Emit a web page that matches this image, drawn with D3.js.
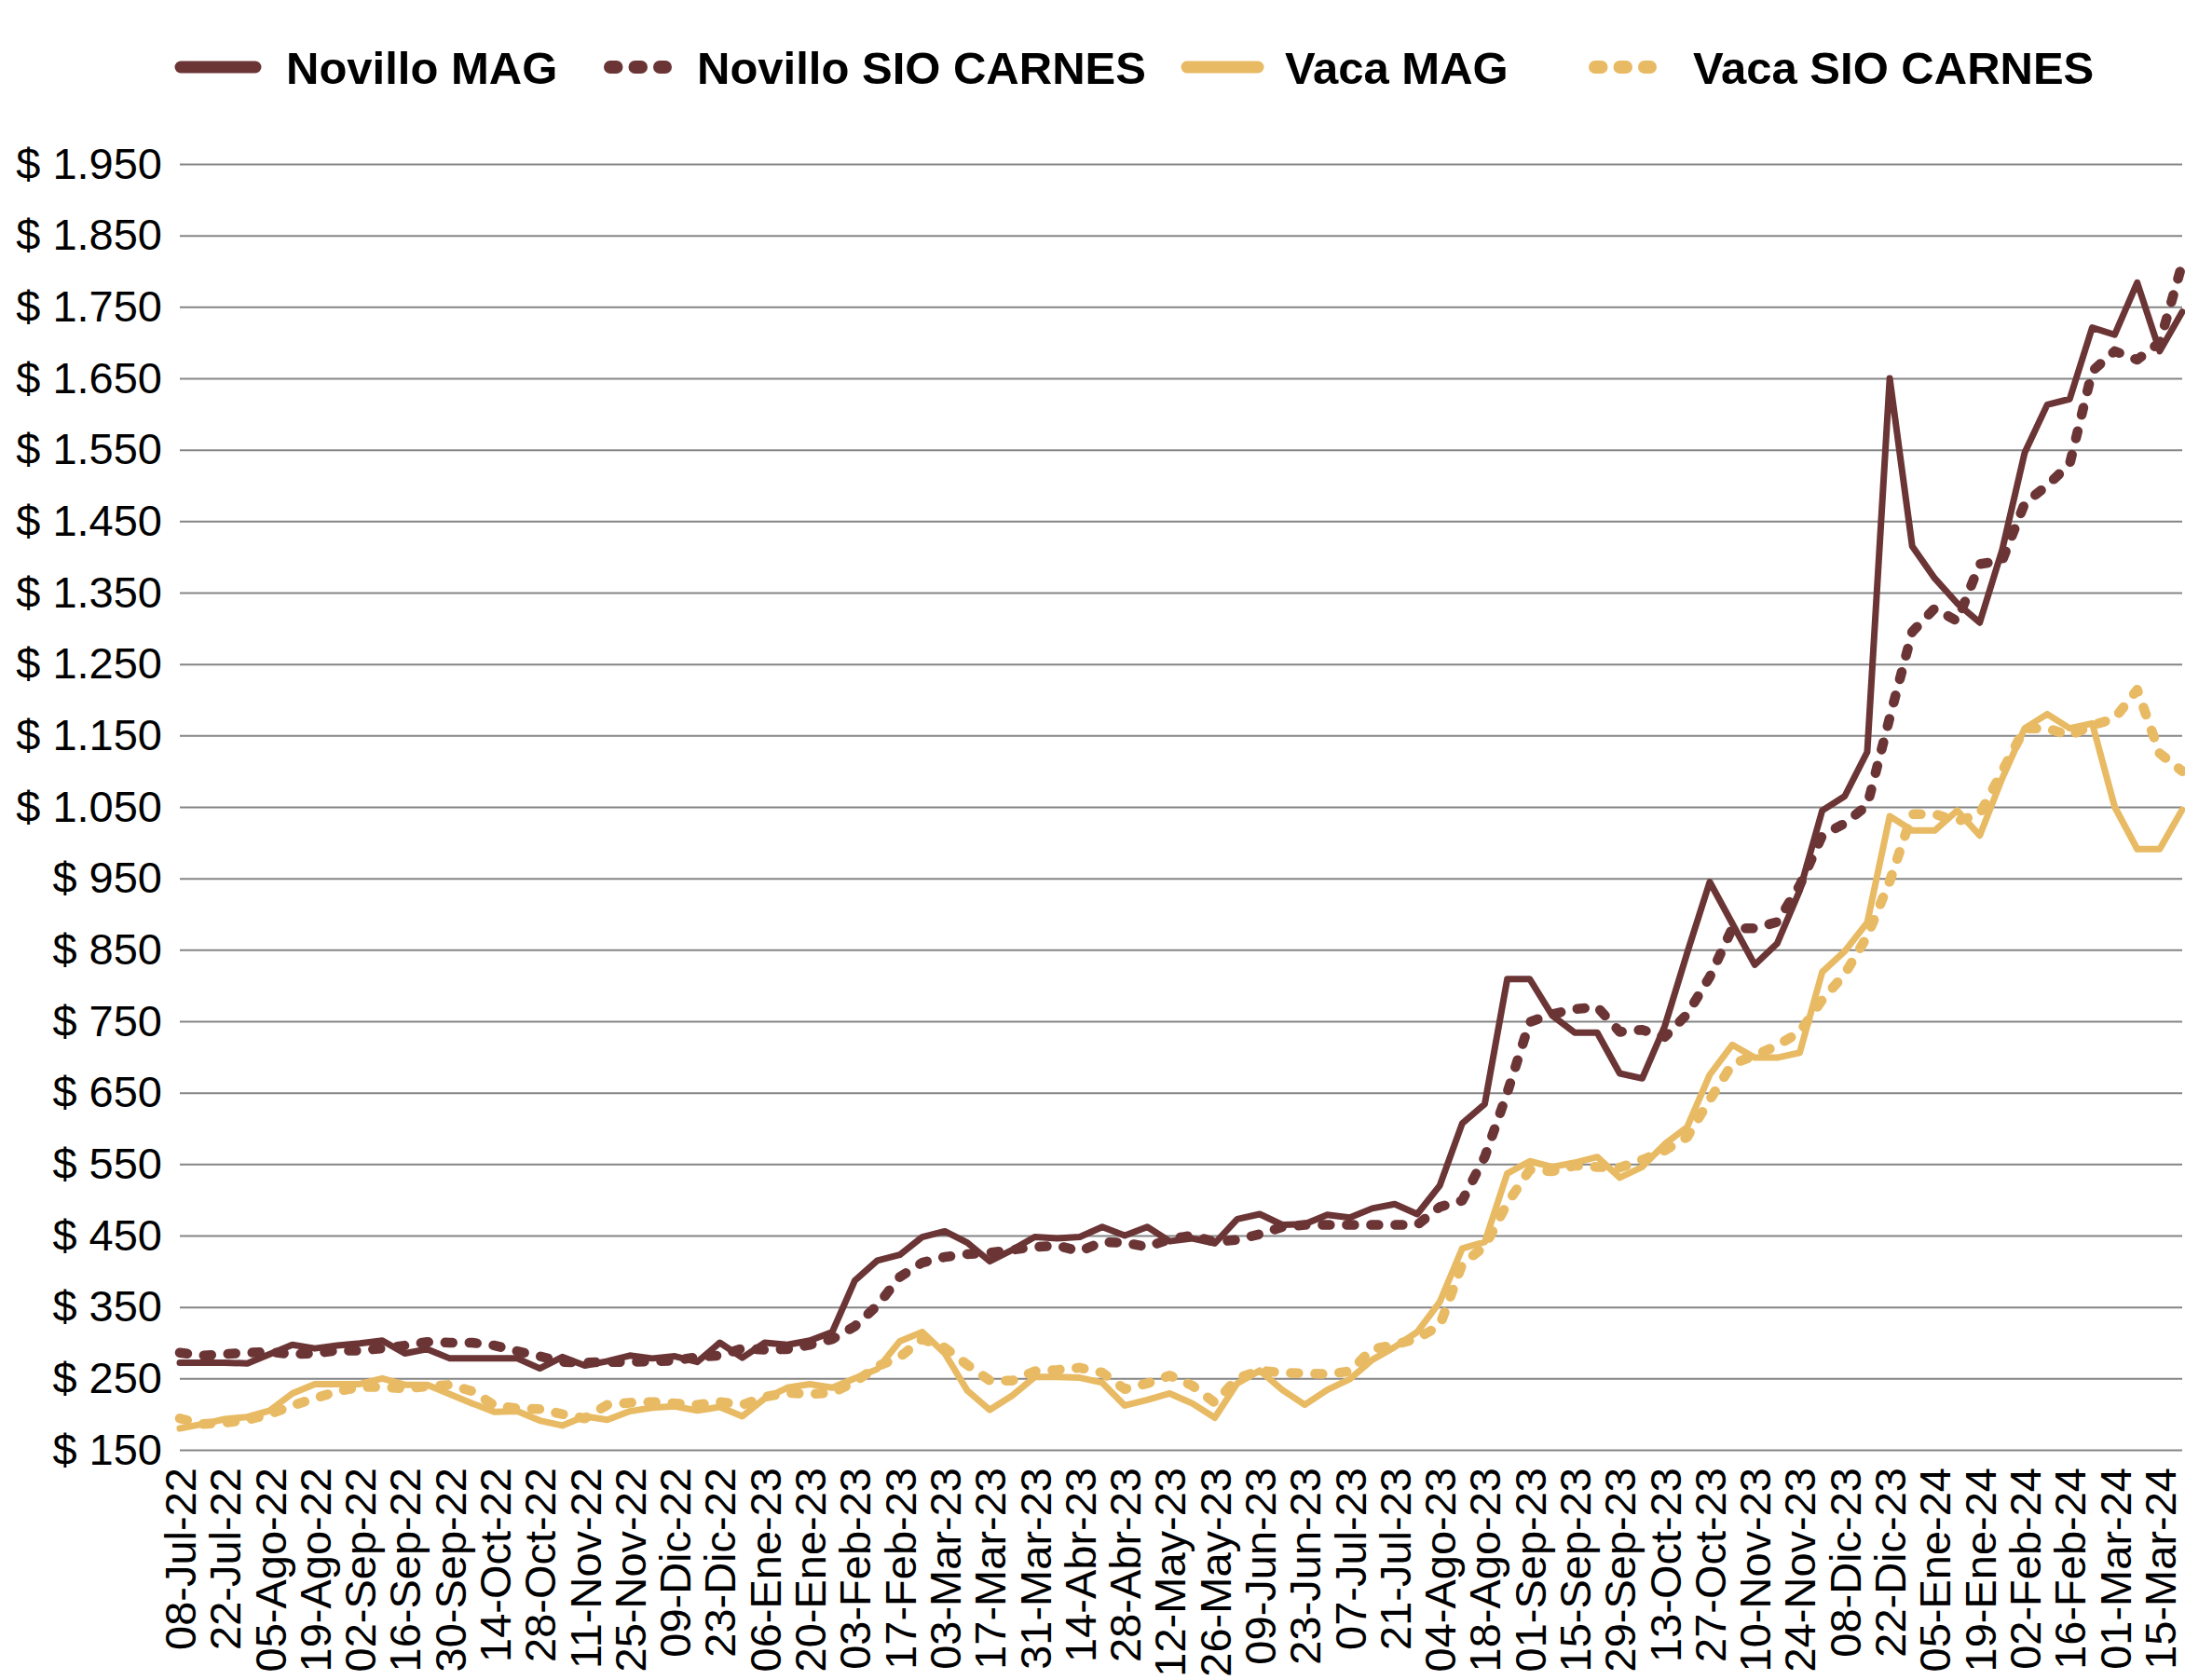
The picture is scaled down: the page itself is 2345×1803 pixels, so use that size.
<!DOCTYPE html>
<html>
<head>
<meta charset="utf-8">
<script src="https://cdn.jsdelivr.net/npm/d3@7"></script>
<style>
  body { margin: 0; background: #fff; }
  svg { display: block; font-family: "Liberation Sans", Arial, sans-serif; }
</style>
</head>
<body>
<svg id="chart" width="2345" height="1803"></svg>
<script>
// weekly categories (labels shown every two weeks)
const weeks = [
  "08-Jul-22","15-Jul-22","22-Jul-22","29-Jul-22","05-Ago-22","12-Ago-22","19-Ago-22","26-Ago-22",
  "02-Sep-22","09-Sep-22","16-Sep-22","23-Sep-22","30-Sep-22","07-Oct-22","14-Oct-22","21-Oct-22",
  "28-Oct-22","04-Nov-22","11-Nov-22","18-Nov-22","25-Nov-22","02-Dic-22","09-Dic-22","16-Dic-22",
  "23-Dic-22","30-Dic-22","06-Ene-23","13-Ene-23","20-Ene-23","27-Ene-23","03-Feb-23","10-Feb-23",
  "17-Feb-23","24-Feb-23","03-Mar-23","10-Mar-23","17-Mar-23","24-Mar-23","31-Mar-23","07-Abr-23",
  "14-Abr-23","21-Abr-23","28-Abr-23","05-May-23","12-May-23","19-May-23","26-May-23","02-Jun-23",
  "09-Jun-23","16-Jun-23","23-Jun-23","30-Jun-23","07-Jul-23","14-Jul-23","21-Jul-23","28-Jul-23",
  "04-Ago-23","11-Ago-23","18-Ago-23","25-Ago-23","01-Sep-23","08-Sep-23","15-Sep-23","22-Sep-23",
  "29-Sep-23","06-Oct-23","13-Oct-23","20-Oct-23","27-Oct-23","03-Nov-23","10-Nov-23","17-Nov-23",
  "24-Nov-23","01-Dic-23","08-Dic-23","15-Dic-23","22-Dic-23","29-Dic-23","05-Ene-24","12-Ene-24",
  "19-Ene-24","26-Ene-24","02-Feb-24","09-Feb-24","16-Feb-24","23-Feb-24","01-Mar-24","08-Mar-24",
  "15-Mar-24","22-Mar-24"
];

const novilloMAG = [
  272, 272, 272, 271, 284, 297, 292, 296, 299, 303, 285, 291, 278, 278, 278, 278,
  264, 280, 268, 274, 282, 278, 281, 273, 300, 279, 300, 297, 303, 315, 387, 415,
  423, 448, 456, 440, 414, 430, 448, 446, 448, 462, 450, 462, 442, 446, 439, 473,
  480, 465, 466, 479, 475, 488, 494, 480, 520, 607, 634, 809, 809, 758, 734, 734,
  677, 670, 743, 846, 945, 887, 829, 859, 933, 1045, 1065, 1127, 1650, 1415, 1370, 1335,
  1308, 1410, 1546, 1613, 1621, 1721, 1711, 1784, 1688, 1743
];

const novilloSIO = [
  286, 282, 284, 286, 287, 284, 285, 289, 289, 292, 296, 301, 300, 300, 296, 288,
  281, 273, 272, 273, 273, 274, 275, 280, 282, 292, 290, 291, 297, 305, 323, 352,
  392, 412, 420, 424, 426, 430, 434, 436, 428, 441, 440, 434, 445, 450, 441, 444,
  452, 462, 465, 465, 465, 465, 465, 465, 490, 499, 560, 650, 749, 760, 767, 770,
  735, 738, 728, 760, 812, 880, 880, 889, 940, 1010, 1027, 1052, 1175, 1295, 1328, 1310,
  1390, 1395, 1475, 1500, 1530, 1660, 1688, 1676, 1700, 1810
];

const vacaMAG = [
  180, 186, 193, 196, 205, 229, 242, 242, 242, 250, 241, 241, 228, 215, 203, 204,
  191, 184, 197, 192, 204, 209, 211, 205, 210, 197, 222, 237, 242, 237, 250, 263,
  302, 315, 285, 233, 206, 226, 252, 252, 251, 244, 212, 220, 229, 215, 195, 243,
  261, 234, 213, 234, 249, 276, 294, 315, 357, 432, 441, 537, 554, 546, 552, 560,
  531, 546, 578, 602, 675, 717, 699, 699, 706, 819, 848, 888, 1037, 1017, 1017, 1045,
  1010, 1090, 1160, 1180, 1160, 1167, 1050, 991, 991, 1046
];

const vacaSIO = [
  194, 186, 188, 192, 200, 212, 222, 232, 238, 238, 236, 239, 241, 232, 212, 208,
  207, 200, 194, 213, 216, 217, 215, 213, 217, 213, 224, 230, 228, 230, 245, 267,
  280, 305, 293, 269, 247, 247, 260, 262, 265, 258, 235, 243, 254, 240, 216, 250,
  261, 258, 257, 256, 260, 291, 297, 306, 324, 410, 435, 495, 542, 540, 548, 546,
  545, 556, 569, 588, 640, 690, 702, 716, 735, 780, 816, 869, 946, 1040, 1040, 1030,
  1040, 1100, 1160, 1160, 1150, 1164, 1174, 1214, 1125, 1100
];

const yTicks = [150, 250, 350, 450, 550, 650, 750, 850, 950, 1050, 1150, 1250, 1350, 1450, 1550, 1650, 1750, 1850, 1950];

const series = [
  { name: "Novillo MAG", values: novilloMAG, color: "#6b3536", dotted: false },
  { name: "Novillo SIO CARNES", values: novilloSIO, color: "#6b3536", dotted: true },
  { name: "Vaca MAG", values: vacaMAG, color: "#e8ba63", dotted: false },
  { name: "Vaca SIO CARNES", values: vacaSIO, color: "#e8ba63", dotted: true }
];

// plot area
const plot = { left: 193, right: 2342, top: 176, bottom: 1556 };

const svg = d3.select("#chart");

const xScale = d3.scalePoint()
  .domain(weeks)
  .range([plot.left, plot.right]);

const yScale = d3.scaleLinear()
  .domain([150, 1950])
  .range([plot.bottom, plot.top]);

// "$ 1.950" style numbers
const locale = d3.formatLocale({ decimal: ",", thousands: ".", grouping: [3], currency: ["$ ", ""] });
const money = locale.format("$,.0f");

// y axis with gridlines
const yAxis = d3.axisLeft(yScale)
  .tickValues(yTicks)
  .tickSize(-(plot.right - plot.left))
  .tickPadding(19)
  .tickFormat(money);

const gy = svg.append("g")
  .attr("transform", `translate(${plot.left},0)`)
  .call(yAxis);
gy.select(".domain").remove();
gy.selectAll(".tick line")
  .attr("stroke", "#858585")
  .attr("stroke-width", 2);
gy.selectAll(".tick text")
  .attr("fill", "#000")
  .style("font-size", "47px")
  .style("font-family", "'Liberation Sans', Arial, sans-serif");

// x axis, labels every second week, rotated
const xAxis = d3.axisBottom(xScale)
  .tickValues(weeks.filter((d, i) => i % 2 === 0))
  .tickSize(0);

const gx = svg.append("g")
  .attr("transform", `translate(0,${plot.bottom})`)
  .call(xAxis);
gx.select(".domain").remove();
gx.selectAll(".tick text")
  .attr("transform", "rotate(-90)")
  .attr("text-anchor", "end")
  .attr("x", -19)
  .attr("y", 0)
  .attr("dy", "0.35em")
  .attr("fill", "#000")
  .style("font-size", "47px")
  .style("font-family", "'Liberation Sans', Arial, sans-serif");

// lines
const line = d3.line()
  .x((d, i) => xScale(weeks[i]))
  .y(d => yScale(d));

svg.append("g")
  .selectAll("path")
  .data(series)
  .join("path")
  .attr("d", d => line(d.values))
  .attr("fill", "none")
  .attr("stroke", d => d.color)
  .attr("stroke-width", d => d.dotted ? 10.5 : 7)
  .attr("stroke-linejoin", "round")
  .attr("stroke-linecap", "round")
  .attr("stroke-dasharray", d => d.dotted ? "8 18" : null);

// legend
const legendItems = [
  { s: series[0], x0: 194, x1: 274, tx: 307 },
  { s: series[1], x0: 655, x1: 714, tx: 748 },
  { s: series[2], x0: 1274, x1: 1350, tx: 1379 },
  { s: series[3], x0: 1712, x1: 1771, tx: 1817 }
];
const legendY = 72;

const legend = svg.append("g").attr("class", "legend");

legend.selectAll("line")
  .data(legendItems)
  .join("line")
  .attr("x1", d => d.x0)
  .attr("x2", d => d.x1)
  .attr("y1", legendY)
  .attr("y2", legendY)
  .attr("stroke", d => d.s.color)
  .attr("stroke-width", d => d.s.dotted ? 14 : 13)
  .attr("stroke-linecap", "round")
  .attr("stroke-dasharray", d => d.s.dotted ? "6.5 20" : null);

legend.selectAll("text")
  .data(legendItems)
  .join("text")
  .attr("x", d => d.tx)
  .attr("y", legendY)
  .attr("dy", "0.36em")
  .style("font-size", "49px")
  .style("font-weight", "bold")
  .attr("fill", "#000")
  .text(d => d.s.name);
</script>
</body>
</html>
